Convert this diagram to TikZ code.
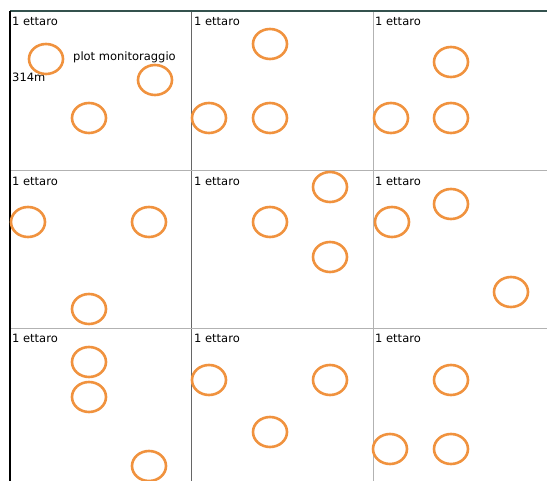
\documentclass[tikz,border=0pt]{standalone}
\usepackage{fontspec}
\setmainfont{DejaVu Sans}
\usepackage{xcolor}
\usepackage{tikz}
\usetikzlibrary{shapes.geometric}

\definecolor{plotorange}{RGB}{240,146,62}
\definecolor{topline}{RGB}{52,82,78}

\begin{document}
\begin{tikzpicture}[
  x=1pt, y=-1pt,
  plot/.style={ellipse, draw=plotorange, line width=2.6pt,
               minimum width=34pt, minimum height=30pt, inner sep=0pt},
  lbl/.style={anchor=base west, inner sep=0pt, font=\fontsize{11.5}{13}\selectfont},
  grid/.style={draw=gray!80!black, line width=1pt},
]
\useasboundingbox (0,0) rectangle (547,481);

%% ---- grid of hectares ----
\draw[grid] (191,11) -- (191,481);
\draw[grid, draw=gray!60] (373,11) -- (373,481);
\draw[grid, draw=gray!60] (10,171) -- (547,171);
\draw[grid, draw=gray!60] (10,329) -- (547,329);
\draw[topline, line width=2pt] (10,11) -- (547,11);
\draw[black, line width=2pt] (10,11) -- (10,481);

%% ---- cell labels ----
\foreach \r/\yb in {1/26, 2/186, 3/343}
  \foreach \c/\xb in {1/12, 2/194, 3/375}
    \node[lbl] (ha\r\c) at (\xb,\yb) {1 ettaro};

\node[lbl] (plotlbl) at (73,61) {plot monitoraggio};
\node[lbl] (arealbl) at (12,82) {314m};

%% ---- row 1 ----
\node[plot] (p11a) at (46,59)  {};
\node[plot] (p11b) at (155,80) {};
\node[plot] (p11c) at (89,118) {};

\node[plot] (p12a) at (270,44)  {};
\node[plot] (p12b) at (209,118) {};
\node[plot] (p12c) at (270,118) {};

\node[plot] (p13a) at (451,62)  {};
\node[plot] (p13b) at (391,118) {};
\node[plot] (p13c) at (451,118) {};

%% ---- row 2 ----
\node[plot] (p21a) at (28,222)  {};
\node[plot] (p21b) at (149,222) {};
\node[plot] (p21c) at (89,309)  {};

\node[plot] (p22a) at (270,222) {};
\node[plot] (p22b) at (330,187) {};
\node[plot] (p22c) at (330,257) {};

\node[plot] (p23a) at (392,222) {};
\node[plot] (p23b) at (451,204) {};
\node[plot] (p23c) at (511,292) {};

%% ---- row 3 ----
\node[plot] (p31a) at (89,362)  {};
\node[plot] (p31b) at (89,397)  {};
\node[plot] (p31c) at (149,466) {};

\node[plot] (p32a) at (209,380) {};
\node[plot] (p32b) at (330,380) {};
\node[plot] (p32c) at (270,432) {};

\node[plot] (p33a) at (451,380) {};
\node[plot] (p33b) at (390,449) {};
\node[plot] (p33c) at (451,449) {};

\end{tikzpicture}
\end{document}
